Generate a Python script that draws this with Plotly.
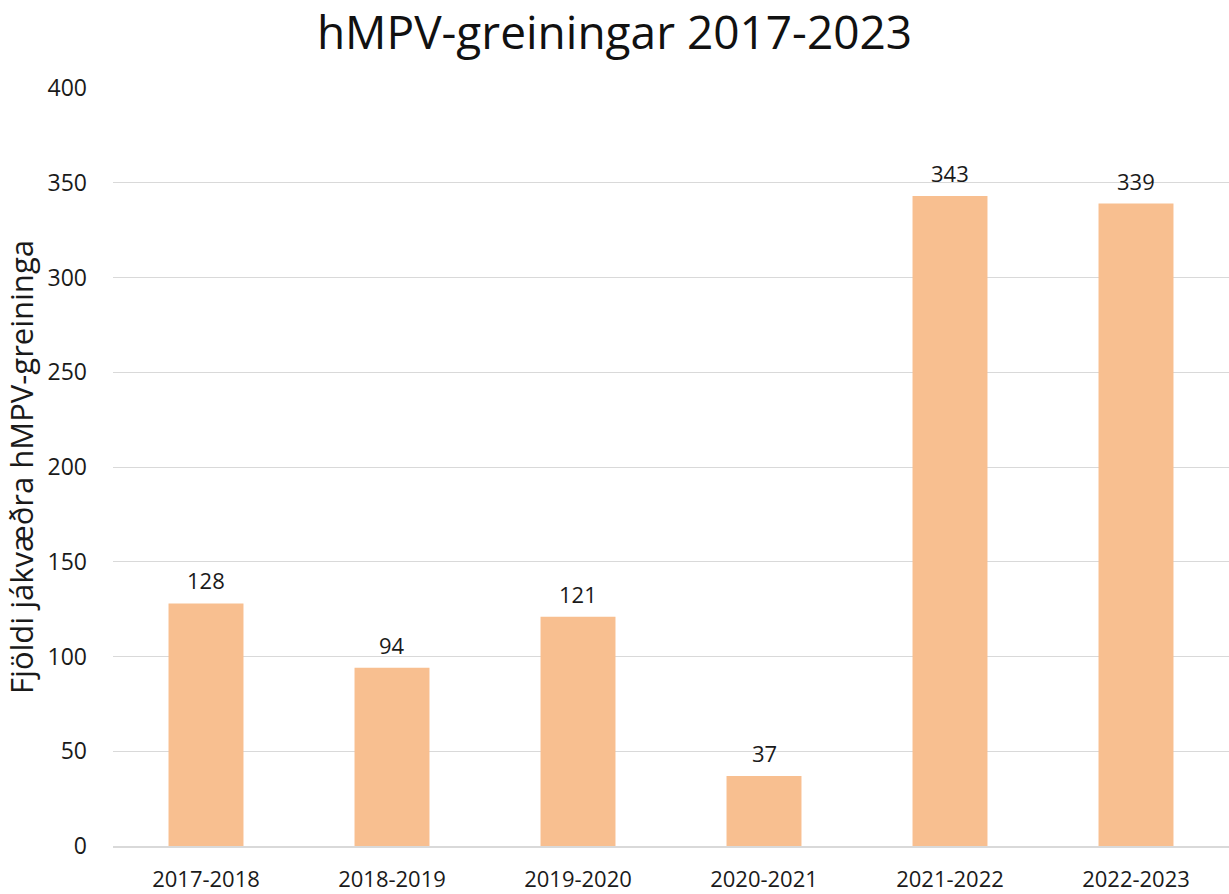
import plotly.graph_objects as go

categories = ["2017-2018", "2018-2019", "2019-2020", "2020-2021", "2021-2022", "2022-2023"]
values = [128, 94, 121, 37, 343, 339]
y_ticks = [0, 50, 100, 150, 200, 250, 300, 350, 400]

FONT = "Open Sans"

fig = go.Figure(go.Bar(
    x=categories, y=values,
    marker=dict(color="#F8BF90", line=dict(width=0)),
    hoverinfo="x+y",
))

for c, v in zip(categories, values):
    fig.add_annotation(
        x=c, y=v, text=str(v), showarrow=False,
        xref="x", yref="y", yanchor="middle", yshift=23,
        font=dict(family=FONT, size=22, color="#1a1a1a"),
    )

fig.update_layout(
    width=1229, height=894,
    margin=dict(l=113, r=0, t=88, b=48),
    paper_bgcolor="white", plot_bgcolor="white",
    bargap=0.597,
    showlegend=False,
    title=dict(text="hMPV-greiningar 2017-2023", x=0.5, xanchor="center",
               y=0.963, yanchor="middle",
               font=dict(family=FONT, size=46, color="#111111")),
    font=dict(family=FONT, color="#1a1a1a"),
)
fig.update_yaxes(
    range=[0, 400], tickvals=y_ticks, ticktext=[str(t) for t in y_ticks],
    showgrid=True, gridcolor="#D9D9D9", gridwidth=1,
    zeroline=False, showline=False, automargin=False,
    ticks="", ticklabelstandoff=25,
    tickfont=dict(family=FONT, size=23, color="#1a1a1a"),
    title=dict(text="Fjöldi jákvæðra hMPV-greininga", standoff=4,
               font=dict(family=FONT, size=31, color="#1a1a1a")),
)
fig.update_xaxes(
    showline=True, linecolor="#D9D9D9", linewidth=1.5, automargin=False,
    showgrid=False, ticks="", ticklabelstandoff=13,
    tickfont=dict(family=FONT, size=22, color="#1a1a1a"),
)

fig.write_html("out.html", config={"displayModeBar": False},
               post_script="document.body.style.margin='0';")
